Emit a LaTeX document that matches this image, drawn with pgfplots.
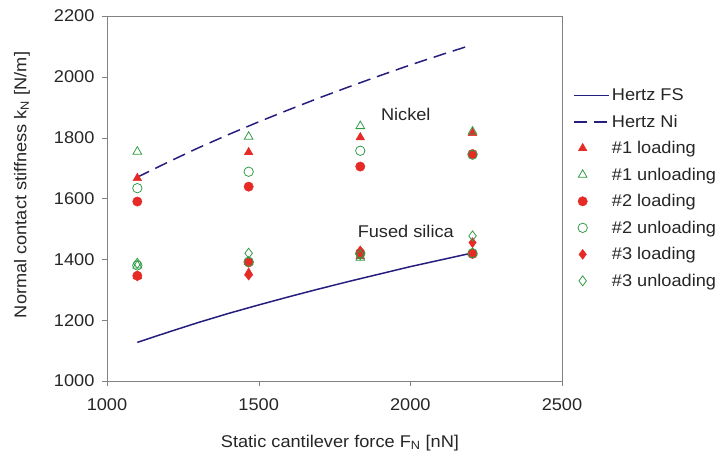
\documentclass[border=0pt]{standalone}
\usepackage{pgfplots}
\pgfplotsset{compat=1.18}
\usepackage{fontspec}
\setmainfont{Liberation Sans}[FakeStretch=1.07]
\definecolor{navy}{RGB}{38,30,125}
\definecolor{ptred}{RGB}{230,42,38}
\definecolor{ptgreen}{RGB}{50,155,70}
\definecolor{frame}{RGB}{130,130,130}
\pgfplotsset{
  lineleg/.style={legend image code/.code={\draw[##1] (0cm,0cm) -- (1.23cm,0cm);}},
  markleg/.style={only marks, legend image code/.code={\draw[##1] plot coordinates {(0.3cm,0cm)};}},
}

\begin{document}
\begin{tikzpicture}
\begin{axis}[
  width=455pt, height=365pt, scale only axis,
  xmin=1000, xmax=2500, ymin=1000, ymax=2200,
  xtick={1000,1500,2000,2500}, ytick={1000,1200,...,2200},
  tick pos=left, tick align=outside, major tick length=5pt,
  axis line style={frame}, tick style={frame},
  /pgf/number format/assume math mode=true,
  /pgf/number format/1000 sep={},
  ticklabel style={font=\fontsize{17}{20}\selectfont, text=black!85},
  xticklabel style={yshift=-9pt},
  yticklabel style={xshift=-4pt},
  label style={font=\fontsize{17}{20}\selectfont, text=black!85},
  xlabel={Static cantilever force F\textsubscript{N} [nN]},
  ylabel={Normal contact stiffness k\textsubscript{N} [N/m]},
  xlabel style={at={(axis description cs:0.512,-0.181)}, anchor=base},
  ylabel style={at={(axis description cs:-0.187,0.537)}, anchor=center},
  legend cell align=left,
  legend style={at={(1.018,0.528)}, anchor=west, draw=none, fill=none,
    font=\fontsize{17}{20}\selectfont, row sep=8.7pt, text=black!85},
  clip=false,
]
\addplot[navy, line width=1.5pt, lineleg]
  coordinates {(1100,1127)(1200,1160)(1300,1192)(1400,1222)(1500,1250)(1600,1277)
  (1700,1303)(1800,1328)(1900,1352)(2000,1376)(2100,1398)(2200,1420)};
\addlegendentry{Hertz FS}
\addplot[navy, line width=1.5pt, dash pattern=on 13pt off 7pt, lineleg]
  coordinates {(1100,1670)(1200,1719)(1300,1766)(1400,1810)(1500,1852)(1600,1892)
  (1700,1931)(1800,1968)(1900,2004)(2000,2039)(2100,2072)(2200,2104)};
\addlegendentry{Hertz Ni}
\addplot[markleg, mark=triangle*, mark size=5pt, color=ptred, mark options={fill=ptred}]
  coordinates {(1100,1667)(1467,1752)(1835,1801)(2205,1815)
  (1100,1345)(1467,1356)(1835,1410)(2205,1420)};
\addlegendentry{\#1 loading}
\addplot[markleg, mark=triangle, mark size=5pt, color=ptgreen, mark options={line width=0.8pt}]
  coordinates {(1100,1754)(1467,1803)(1835,1838)(2205,1820)
  (1100,1380)(1467,1392)(1835,1405)(2205,1422)};
\addlegendentry{\#1 unloading}
\addplot[markleg, mark=*, mark size=4.7pt, color=ptred, mark options={fill=ptred}]
  coordinates {(1100,1590)(1467,1639)(1835,1705)(2205,1746)
  (1100,1346)(1467,1390)(1835,1418)(2205,1418)};
\addlegendentry{\#2 loading}
\addplot[markleg, mark=o, mark size=4.7pt, color=ptgreen, mark options={line width=0.8pt}]
  coordinates {(1100,1634)(1467,1688)(1835,1757)(2205,1744)
  (1100,1380)(1467,1392)(1835,1420)(2205,1420)};
\addlegendentry{\#2 unloading}
\addplot[markleg, mark=diamond*, mark size=5pt, color=ptred, mark options={fill=ptred}]
  coordinates {(1100,1345)(1467,1348)(1835,1428)(2205,1455)};
\addlegendentry{\#3 loading}
\addplot[markleg, mark=diamond, mark size=5pt, color=ptgreen, mark options={line width=0.8pt}]
  coordinates {(1100,1387)(1467,1420)(1835,1415)(2205,1477)};
\addlegendentry{\#3 unloading}
\node[font=\fontsize{17}{20}\selectfont, text=black!85] at (axis cs:1985,1875) {Nickel};
\node[font=\fontsize{17}{20}\selectfont, text=black!85] at (axis cs:1985,1493) {Fused silica};
\end{axis}
\pgfresetboundingbox
\path (current axis.south west) ++(-107pt,-71pt) rectangle ++(722pt,452pt);
\end{tikzpicture}
\end{document}
